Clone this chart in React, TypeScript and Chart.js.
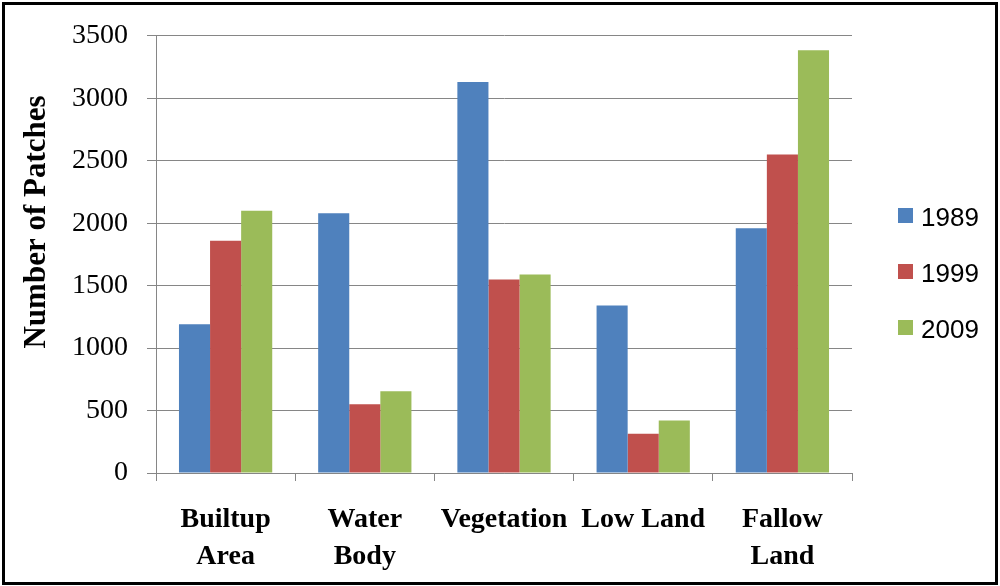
import React, { useEffect, useRef } from "react";
import { Chart, registerables } from "chart.js";

Chart.register(...registerables);

const categories: string[][] = [
  ["Builtup", "Area"],
  ["Water", "Body"],
  ["Vegetation"],
  ["Low Land"],
  ["Fallow", "Land"],
];
const seriesNames = ["1989", "1999", "2009"];
const values1989 = [1190, 2080, 3130, 1340, 1960];
const values1999 = [1860, 550, 1550, 315, 2550];
const values2009 = [2100, 655, 1590, 420, 3385];
const seriesColors = ["#4F81BD", "#C0504D", "#9BBB59"];
const yTitle = "Number of Patches";
const yMin = 0;
const yMax = 3500;
const yStep = 500;

const GRID = "#868686";

const overlayPlugin = {
  id: "overlay",
  afterDraw(chart: any) {
    const ctx = chart.ctx as CanvasRenderingContext2D;
    ctx.save();
    // y axis title
    ctx.fillStyle = "#000";
    ctx.font = "bold 31px 'Liberation Serif', 'Times New Roman', serif";
    ctx.textAlign = "center";
    ctx.textBaseline = "alphabetic";
    ctx.translate(45, 222);
    ctx.rotate(-Math.PI / 2);
    ctx.fillText(yTitle, 0, 0);
    ctx.restore();

    // legend
    ctx.save();
    ctx.font = "26px 'Liberation Sans', Arial, sans-serif";
    ctx.textAlign = "left";
    ctx.textBaseline = "alphabetic";
    chart.data.datasets.forEach((ds: any, i: number) => {
      const y = 208 + i * 56;
      ctx.fillStyle = ds.backgroundColor;
      ctx.fillRect(898, y, 15, 15);
      ctx.fillStyle = "#000";
      ctx.fillText(ds.label, 921, y + 17.5);
    });
    ctx.restore();
  },
};

export default function App() {
  const ref = useRef<HTMLCanvasElement | null>(null);

  useEffect(() => {
    if (!ref.current) return;
    const seriesValues = [values1989, values1999, values2009];
    const chart = new Chart(ref.current, {
      type: "bar",
      data: {
        labels: categories,
        datasets: seriesNames.map((name, i) => ({
          label: name,
          data: seriesValues[i],
          backgroundColor: seriesColors[i],
          borderWidth: 0,
          categoryPercentage: 0.67,
          barPercentage: 1.0,
        })),
      },
      options: {
        animation: false,
        responsive: false,
        maintainAspectRatio: false,
        layout: { padding: { left: 0, top: 35, right: 148, bottom: 0 } },
        plugins: {
          legend: { display: false },
          tooltip: { enabled: false },
          title: { display: false },
        },
        scales: {
          x: {
            offset: true,
            grid: {
              offset: true,
              drawOnChartArea: false,
              drawTicks: true,
              tickLength: 8,
              color: GRID,
              lineWidth: 1,
            },
            border: { display: true, color: GRID, width: 1 },
            ticks: {
              color: "#000",
              padding: 21,
              maxRotation: 0,
              autoSkip: false,
              font: {
                family: "'Liberation Serif', 'Times New Roman', serif",
                size: 28,
                weight: "bold",
                lineHeight: 1.3,
              },
            },
            afterFit(scale: any) {
              scale.height = 113;
            },
          },
          y: {
            min: yMin,
            max: yMax,
            grid: {
              color: GRID,
              lineWidth: 1,
              tickLength: 9,
              drawTicks: true,
            },
            border: { display: true, color: GRID, width: 1 },
            ticks: {
              stepSize: yStep,
              color: "#000",
              padding: 19,
              callback: (v: any) => String(v),
              font: {
                family: "'Liberation Serif', 'Times New Roman', serif",
                size: 28,
              },
            },
            afterFit(scale: any) {
              scale.width = 156;
            },
          },
        },
      },
      plugins: [overlayPlugin],
    });
    return () => chart.destroy();
  }, []);

  return (
    <div
      style={{
        position: "absolute",
        left: 0,
        top: 0,
        width: 1000,
        height: 586,
        background: "#fff",
        overflow: "hidden",
      }}
    >
      <canvas
        ref={ref}
        width={1000}
        height={586}
        style={{ position: "absolute", left: 0, top: 0, width: 1000, height: 586 }}
      />
      <div
        style={{
          position: "absolute",
          left: 2,
          top: 2,
          width: 996,
          height: 583,
          boxSizing: "border-box",
          border: "3px solid #000",
          pointerEvents: "none",
        }}
      />
    </div>
  );
}
